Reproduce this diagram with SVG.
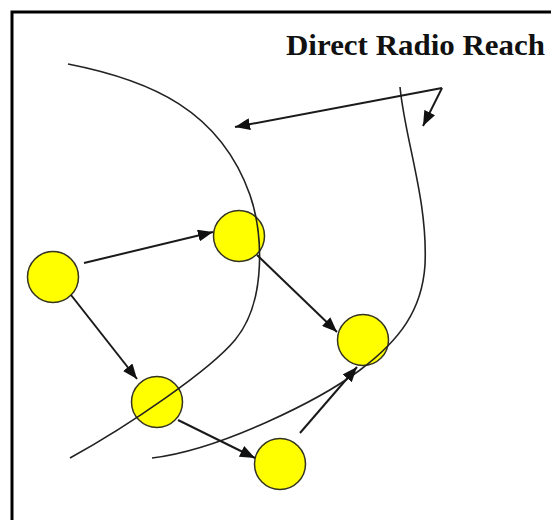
<svg xmlns="http://www.w3.org/2000/svg" width="551" height="520" viewBox="0 0 551 520">
<style>
.node circle{fill:#FFFF00;stroke:#333322;stroke-width:1.5}
.range{fill:none;stroke:#222;stroke-width:1.6}
.arrow{fill:none;stroke:#1a1a1a;stroke-width:2;marker-end:url(#ah)}
.title{font-family:"Liberation Serif","Times New Roman",serif;font-weight:bold;font-size:30px;fill:#111}
</style>
<defs>
<marker id="ah" markerUnits="userSpaceOnUse" markerWidth="16" markerHeight="12" refX="15" refY="6" orient="auto">
<path d="M0,0 L15,6 L0,12 z" fill="#111"/>
</marker>
</defs>
<rect x="0" y="0" width="551" height="520" fill="#fff"/>
<rect x="12" y="12" width="600" height="600" fill="none" stroke="#000" stroke-width="3"/>
<text class="title" x="286" y="55" textLength="259" lengthAdjust="spacingAndGlyphs">Direct Radio Reach</text>
<g id="node-a" class="node"><circle cx="53" cy="277" r="25.5"/></g>
<g id="node-b" class="node"><circle cx="239" cy="236" r="25.5"/></g>
<g id="node-c" class="node"><circle cx="157" cy="402" r="25.5"/></g>
<g id="node-d" class="node"><circle cx="280" cy="464" r="25.5"/></g>
<g id="node-e" class="node"><circle cx="363" cy="340" r="25.5"/></g>
<g id="connectors">
<path class="range" d="M68,64 C150,80 220,110 250,195 C262,230 268,300 235,340 C210,370 130,425 70,458"/>
<path class="range" d="M400,87 C405,140 428,200 425,265 C422,310 400,340 360,370 C320,400 220,450 152,458"/>
<line class="arrow" x1="442" y1="88" x2="235" y2="127"/>
<line class="arrow" x1="442" y1="88" x2="423" y2="126"/>
<line class="arrow" x1="84" y1="263" x2="213" y2="232"/>
<line class="arrow" x1="71" y1="295" x2="137" y2="379"/>
<line class="arrow" x1="257" y1="255" x2="337" y2="332"/>
<line class="arrow" x1="178" y1="420" x2="255" y2="458"/>
<line class="arrow" x1="300" y1="433" x2="357" y2="367"/>
</g>
</svg>
